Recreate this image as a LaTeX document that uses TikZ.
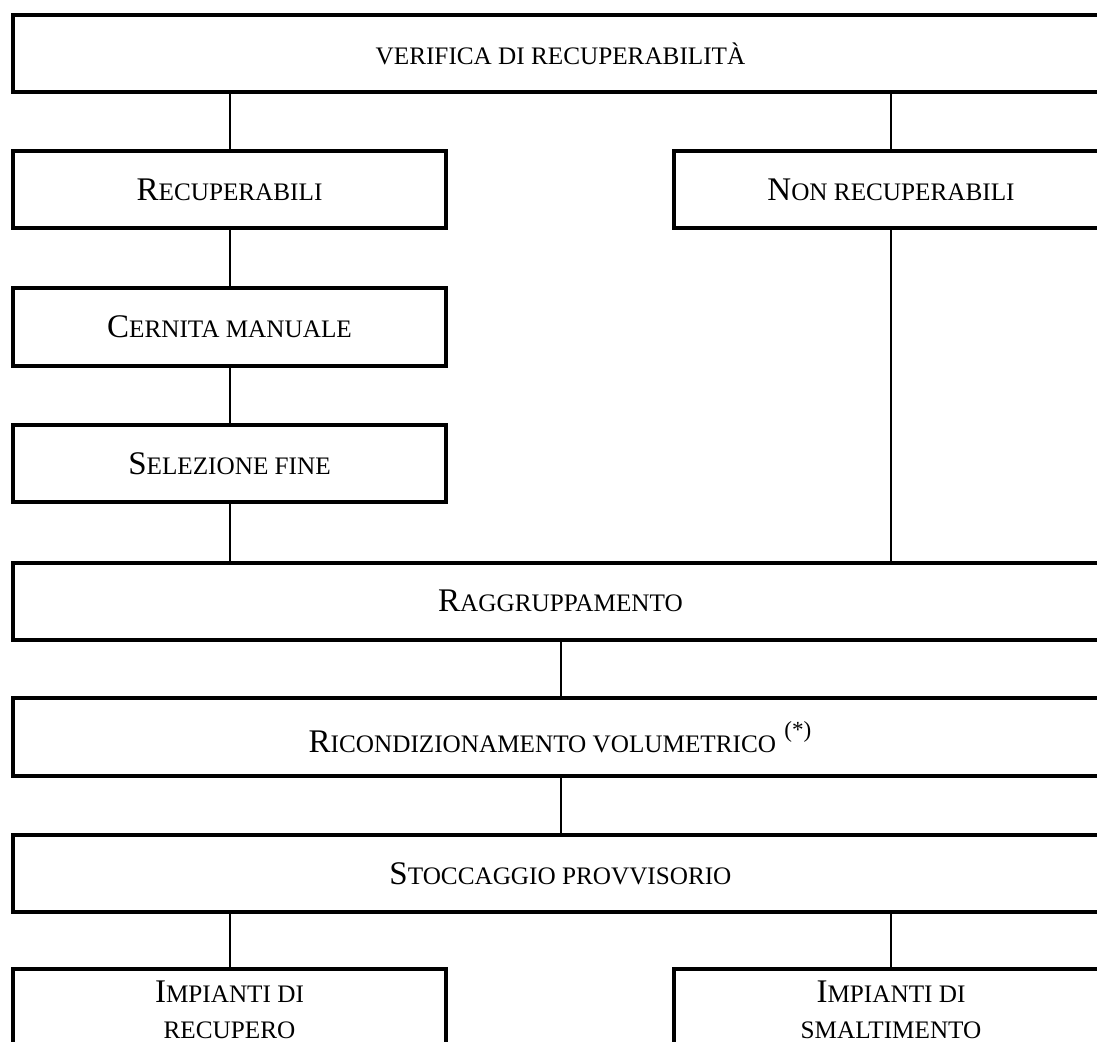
\documentclass[tikz,border=0pt]{standalone}
\usepackage{fontspec}
\setmainfont{Liberation Serif}
\newcommand{\smc}[1]{{\fontsize{12.6pt}{15pt}\selectfont #1}}

\begin{document}
\begin{tikzpicture}[x=0.5pt,y=-0.5pt,
  box/.style={draw,line width=2pt,minimum height=38.5pt,inner sep=0pt,
    font=\fontsize{16.5pt}{18pt}\selectfont},
  link/.style={line width=1pt}]
\useasboundingbox (0,0) rectangle (1097,1042);
\clip (0,0) rectangle (1097,1042);
%\draw[help lines, color=gray!30] (0,0) grid[step=50] (1097,1042);
\node[box,minimum width=547.5pt] (verifica) at (560.5,53.5) {\smc{VERIFICA DI RECUPERABILITÀ}};
\node[box,minimum width=216.5pt] (rec) at (229.5,190) {R\smc{ECUPERABILI}};
\node[box,minimum width=217pt] (nonrec) at (891,190) {N\smc{ON RECUPERABILI}};
\node[box,minimum width=216.5pt,minimum height=39pt] (cernita) at (229.5,327) {C\smc{ERNITA MANUALE}};
\node[box,minimum width=216.5pt] (selezione) at (229.5,463.5) {S\smc{ELEZIONE FINE}};
\node[box,minimum width=547.5pt] (ragg) at (560.5,601) {R\smc{AGGRUPPAMENTO}};
\node[box,minimum width=547.5pt,minimum height=39pt] (ricond) at (560.5,737) {R\smc{ICONDIZIONAMENTO VOLUMETRICO} \raisebox{1pt}{\textsuperscript{(*)}}};
\node[box,minimum width=547.5pt] (stocc) at (560.5,873.5) {S\smc{TOCCAGGIO PROVVISORIO}};
\node[box,minimum width=216.5pt,minimum height=41pt,align=center] (recupero) at (229.5,1010) {I\smc{MPIANTI DI}\\ \smc{RECUPERO}};
\node[box,minimum width=217pt,minimum height=41pt,align=center] (smalt) at (891,1010) {I\smc{MPIANTI DI}\\ \smc{SMALTIMENTO}};
\draw[link] (verifica.south -| rec) -- (rec);
\draw[link] (verifica.south -| nonrec) -- (nonrec);
\draw[link] (rec) -- (cernita);
\draw[link] (cernita) -- (selezione);
\draw[link] (selezione) -- (selezione |- ragg.north);
\draw[link] (nonrec) -- (nonrec |- ragg.north);
\draw[link] (ragg) -- (ricond);
\draw[link] (ricond) -- (stocc);
\draw[link] (stocc.south -| recupero) -- (recupero);
\draw[link] (stocc.south -| smalt) -- (smalt);
\end{tikzpicture}
\end{document}
